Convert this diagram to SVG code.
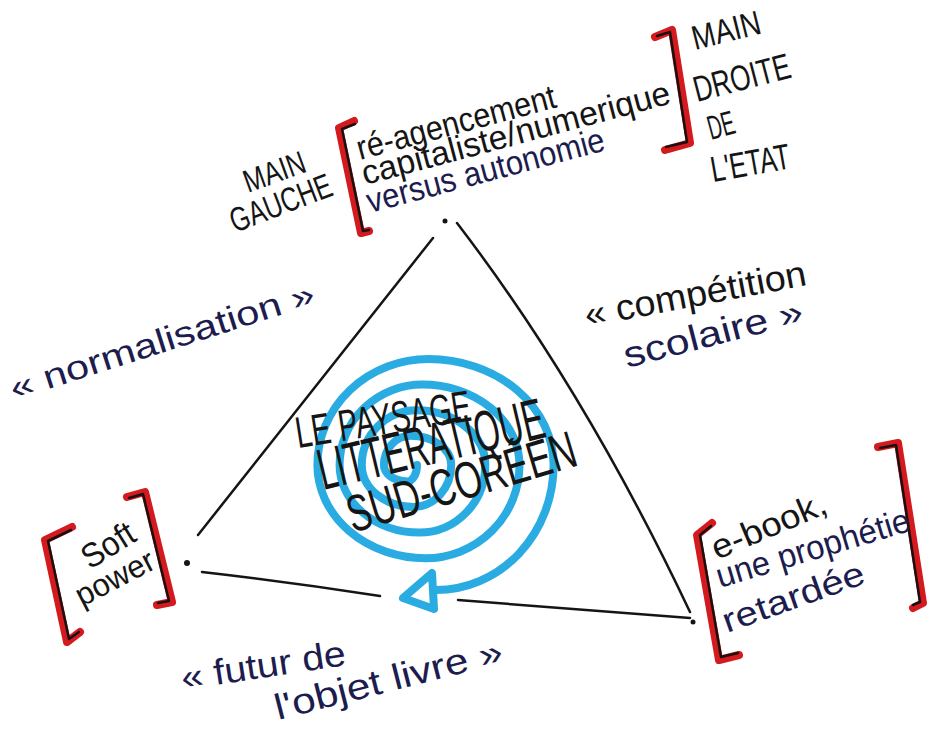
<svg xmlns="http://www.w3.org/2000/svg" width="933" height="740" viewBox="0 0 933 740">
<style>
.t{font-family:"Liberation Sans","DejaVu Sans",sans-serif;fill:#151515}
.n{fill:#1c1c4e}
.br{fill:none;stroke:#d41a1f;stroke-width:8;stroke-linejoin:round;stroke-linecap:round}
.bk{fill:none;stroke:#1a1010;stroke-width:2.5;stroke-linejoin:round;stroke-linecap:round}
.ln{fill:none;stroke:#151515;stroke-width:2.5;stroke-linecap:round}
.sp{fill:none;stroke:#2aace2;stroke-width:8;stroke-linecap:round;stroke-linejoin:round}
</style>
<rect width="933" height="740" fill="#ffffff"/>

<g id="connectors">
<path class="ln" d="M433,238 L198,535"/>
<path class="ln" d="M457,223 Q585,390 690,612"/>
<path class="ln" d="M202,572 Q290,582 380,596"/>
<path class="ln" d="M458,600 L690,618"/>
<circle cx="445" cy="221" r="2.5" fill="#151515"/>
<circle cx="187" cy="563" r="3" fill="#151515"/>
<circle cx="693" cy="622" r="2.5" fill="#151515"/>
</g>

<g id="node-top">
<text class="t" font-size="32" transform="translate(248,193) rotate(-20)" textLength="64" lengthAdjust="spacingAndGlyphs">MAIN</text>
<text class="t" font-size="34" transform="translate(235,233) rotate(-21)" textLength="107" lengthAdjust="spacingAndGlyphs">GAUCHE</text>
<path class="br" d="M354,121 L339,128 L361,233 L369,231"/>
<path class="bk" d="M355,124 L342,129 L363,231 L369,230"/>
<text class="t" font-size="34" transform="translate(360,160) rotate(-15)" textLength="205" lengthAdjust="spacingAndGlyphs">ré-agencement</text>
<text class="t" font-size="34" transform="translate(365,185) rotate(-14.9)" textLength="318" lengthAdjust="spacingAndGlyphs">capitaliste/numerique</text>
<text class="t n" font-size="34" transform="translate(370,213) rotate(-14.9)" textLength="245" lengthAdjust="spacingAndGlyphs">versus autonomie</text>
<path class="br" d="M655,37 L672,30 L690,143 L665,150"/>
<path class="bk" d="M657,36 L670,32 L687,142 L666,147"/>
<text class="t" font-size="34" transform="translate(695,50) rotate(-14)" textLength="70" lengthAdjust="spacingAndGlyphs">MAIN</text>
<text class="t" font-size="36" transform="translate(697,102) rotate(-14.6)" textLength="99" lengthAdjust="spacingAndGlyphs">DROITE</text>
<text class="t" font-size="34" transform="translate(711,140) rotate(-15)" textLength="27" lengthAdjust="spacingAndGlyphs">DE</text>
<text class="t" font-size="36" transform="translate(713,182) rotate(-10)" textLength="80" lengthAdjust="spacingAndGlyphs">L'ETAT</text>
</g>

<g id="node-left">
<path class="br" d="M72,527 L45,540 L67,642 L80,632"/>
<path class="bk" d="M71,530 L48,541 L69,639 L79,632"/>
<path class="br" d="M127,497 L145,492 L172,602 L157,605"/>
<path class="bk" d="M129,498 L143,494 L169,601 L158,603"/>
<text class="t" font-size="34" transform="translate(90,570) rotate(-32)" textLength="57" lengthAdjust="spacingAndGlyphs">Soft</text>
<text class="t" font-size="32" transform="translate(82,607) rotate(-27.5)" textLength="85" lengthAdjust="spacingAndGlyphs">power</text>
</g>

<g id="node-right">
<path class="br" d="M712,523 L697,535 L719,660 L739,655"/>
<path class="bk" d="M711,526 L700,535 L721,657 L738,653"/>
<path class="br" d="M878,447 L898,443 L923,603 L913,608"/>
<path class="bk" d="M880,448 L896,445 L920,602 L913,605"/>
<text class="t" font-size="34" transform="translate(717,560) rotate(-23)" textLength="122" lengthAdjust="spacingAndGlyphs">e-book,</text>
<text class="t n" font-size="34" transform="translate(720,588) rotate(-16.7)" textLength="201" lengthAdjust="spacingAndGlyphs">une prophétie</text>
<text class="t n" font-size="34" transform="translate(727,633) rotate(-19.7)" textLength="149" lengthAdjust="spacingAndGlyphs">retardée</text>
</g>

<g id="node-center">
<path class="sp" d="M417,465 A9.5,16.4 0 0 1 407.5,481.4 A23.6,16.4 0 0 1 383.9,465 A26.6,29.2 0 0 1 410.5,435.8 A40.7,29.2 0 0 1 451.2,465 A37.7,42 0 0 1 413.5,507 A51.7,42 0 0 1 361.8,465 A54.7,54.8 0 0 1 416.5,410.2 A68.8,54.8 0 0 1 485.3,465 A65.8,67.6 0 0 1 419.5,532.6 A79.9,67.6 0 0 1 339.6,465 A82.9,80.4 0 0 1 422.5,384.6 A97,80.4 0 0 1 519.5,465 A94,93.2 0 0 1 425.5,558.2 A108.1,93.2 0 0 1 317.4,465 A111.1,106 0 0 1 428.5,359 A125.1,106 0 0 1 553.6,465 A117.6,125 0 0 1 436,590"/>
<polygon class="sp" points="403,598 432,573 434,609" fill="#ffffff"/>
<text class="t" font-size="44" transform="translate(298,448) rotate(-9)" textLength="177" lengthAdjust="spacingAndGlyphs">LE PAYSAGE</text>
<text class="t" font-size="58" transform="translate(323,490) rotate(-13.3)" textLength="231" lengthAdjust="spacingAndGlyphs">LITTERATIQUE</text>
<text class="t" font-size="52" transform="translate(353,533) rotate(-16.7)" textLength="237" lengthAdjust="spacingAndGlyphs">SUD-CORÉEN</text>
</g>

<g id="label-normalisation">
<text class="t n" font-size="34" transform="translate(14,400) rotate(-17.7)" textLength="318" lengthAdjust="spacingAndGlyphs">« normalisation »</text>
</g>
<g id="label-competition">
<text class="t" font-size="36" transform="translate(587,327) rotate(-10.8)" textLength="225" lengthAdjust="spacingAndGlyphs">« compétition</text>
<text class="t n" font-size="36" transform="translate(627,368) rotate(-14.5)" textLength="184" lengthAdjust="spacingAndGlyphs">scolaire »</text>
</g>
<g id="label-futur">
<text class="t n" font-size="36" transform="translate(183,690) rotate(-8.7)" textLength="166" lengthAdjust="spacingAndGlyphs">« futur de</text>
<text class="t n" font-size="36" transform="translate(278,720) rotate(-14.3)" textLength="234" lengthAdjust="spacingAndGlyphs">l'objet livre »</text>
</g>
</svg>
